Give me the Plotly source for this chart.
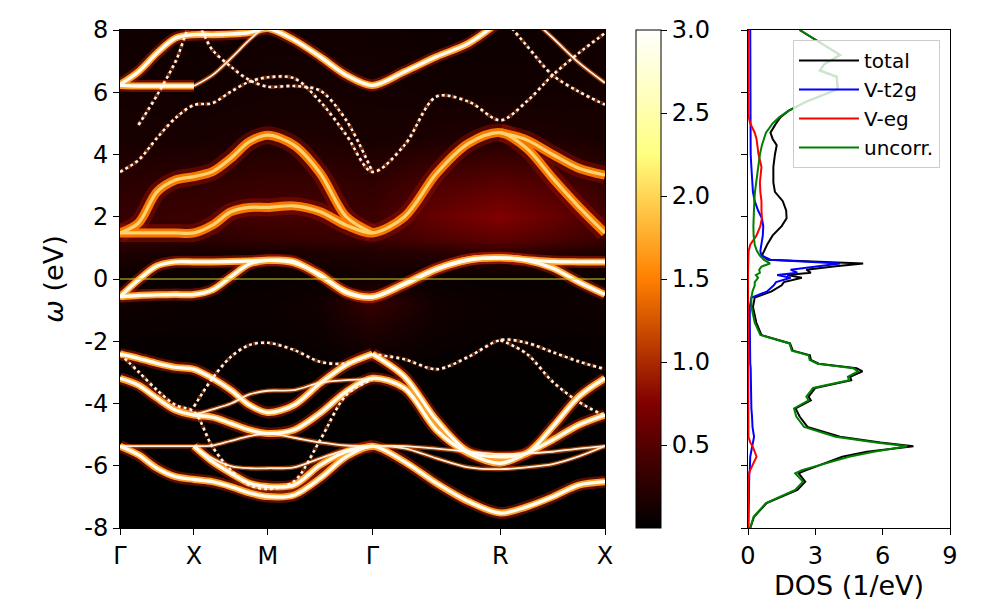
import plotly.graph_objects as go

N = None

# ---------------- k-path (cumulative distance along Γ-X-M-Γ-R-X) ----------------
K_PATH = [0.0, 0.125, 0.25, 0.375, 0.5, 0.625, 0.75, 0.875, 1.0, 1.177, 1.354, 1.530,
          1.707, 1.924, 2.140, 2.357, 2.573, 2.750, 2.926, 3.103, 3.280]
HS_POS = [0.0, 0.5, 1.0, 1.707, 2.573, 3.280]
HS_LABELS = ["Γ", "X", "M", "Γ", "R", "X"]

# ---------------- spectral-function band maxima (eV) ----------------
t2g_a = [-0.57, -0.53, -0.51, -0.50, -0.50, -0.35, 0.07, 0.48, 0.60, 0.56, 0.10, -0.41, -0.58,
         -0.17, 0.31, 0.61, 0.68, 0.62, 0.56, 0.55, 0.55]
t2g_b = [-0.57, -0.03, 0.42, 0.55, 0.55, 0.55, 0.56, 0.58, 0.60, 0.52, 0.14, -0.44, -0.58,
         -0.15, 0.33, 0.62, 0.68, 0.60, 0.35, -0.10, -0.50]
hub_lower = [1.48, 1.48, 1.48, 1.48, 1.48, 1.73, 2.16, 2.30, 2.30, 2.35, 2.16, 1.73, 1.48,
             2.00, 3.39, 4.36, 4.70, 4.20, 3.24, 2.32, 1.48]
hub_upper = [1.48, 1.80, 2.80, 3.18, 3.29, 3.45, 3.88, 4.41, 4.62, 4.30, 3.40, 2.00, 1.48,
             N, N, N, 4.70, 4.47, 4.00, 3.56, 3.34]
eg_top = [6.25, 6.66, 7.26, 7.74, 7.85, 7.85, 7.87, 7.92, 8.05, 7.68, 7.14, 6.55, 6.22,
          6.66, 7.14, 7.57, 8.30, N, N, N, N]
eg_flat = [6.22, 6.20, 6.20, 6.20, 6.20, N, N, N, N, N, N, N, N, N, N, N, N, N, N, N, N]
thin_xm = [N, N, N, N, 6.20, 6.55, 7.09, 7.68, 8.20, N, N, N, N, N, N, N, N, N, N, N, N]
sp_1 = [3.44, 3.82, 4.53, 5.17, 5.59, 5.65, 6.02, 6.34, 6.48, 6.45, 5.70, 4.63, 3.44,
        4.30, 5.86, 5.70, 5.10, 5.70, 6.55, 7.26, 7.90]
sp_2 = [N, 4.95, 5.90, 6.98, 8.30, 7.36, 6.82, 6.39, 6.18, 6.20, 6.05, 5.10, 3.44,
        N, N, N, 8.50, 7.50, 6.55, 6.02, 5.60]
sp_3 = [N, N, N, N, N, N, N, N, N, N, N, N, N, N, N, N, N, 8.50, 7.75, 6.95, 6.30]
o2p_1 = [-2.41, -2.55, -2.71, -2.84, -2.90, -3.19, -3.57, -4.05, -4.29, -4.05, -3.35, -2.76, -2.41,
         N, N, N, N, N, N, N, N]
o2p_1r = [N, N, N, N, N, N, N, N, N, N, N, N, -2.41,
          -2.58, -2.90, -2.50, -1.96, -2.05, -2.35, -2.65, -2.90]
o2p_2 = [-3.19, -3.41, -3.83, -4.21, -4.37, -4.44, -4.64, -4.85, -4.96, -4.85, -4.31, -3.62, -3.19,
         -3.51, -4.85, -5.60, -5.92, -5.60, -5.17, -4.69, -4.37]
o2p_flat = [-5.37, -5.37, -5.37, -5.37, -5.37, -5.35, -5.20, -5.05, -4.96, -5.10, -5.25, -5.35, -5.37,
            -5.37, -5.45, -5.55, -5.63, -5.60, -5.55, -5.45, -5.37]
o2p_3 = [-5.37, -5.65, -6.08, -6.35, -6.44, -6.51, -6.67, -6.87, -6.99, -6.94, -6.40, -5.71, -5.37,
         -5.87, -6.56, -7.15, -7.52, -7.32, -7.00, -6.62, -6.51]
o2p_4 = [N, N, N, N, -5.37, -5.76, -6.01, -6.08, -6.08, -6.05, -5.76, -5.49, -5.37,
         -5.44, -5.76, -6.05, -6.11, -6.05, -5.95, -5.70, -5.37]
o2p_5 = [N, N, N, N, -5.37, -5.87, -6.24, -6.56, -6.67, -6.62, -5.98, -5.55, -5.37,
         N, N, N, N, N, N, N, N]
o2p_6 = [N, N, N, N, N, N, N, N, N, N, N, N, -2.41,
         -3.14, -4.53, -5.55, -5.71, -5.60, -4.75, -3.78, -3.19]
o2p_dot_c = [-2.41, -2.98, -3.57, -4.05, -4.26, -5.39, -6.14, -6.62, -6.75, -6.50, -5.17, -3.73, -3.22,
             N, N, N, N, N, N, N, N]
o2p_dot_d = [N, N, N, N, -4.10, -3.19, -2.50, -2.12, -2.05, -2.28, -2.66, -2.71, -2.41,
             N, N, N, N, N, N, N, N]
o2p_thin_m = [N, N, N, N, -4.37, -4.19, -4.00, -3.71, -3.59, -3.57, -3.33, -3.25, -3.22,
              N, N, N, N, N, N, N, N]
o2p_dot_r = [N, N, N, N, N, N, N, N, N, N, N, N, N, N, N, N, -1.96, -2.40, -3.30, -3.95, -4.40]

# ---------------- diffuse background intensity (coarse grid) ----------------
BG_K = [0.0, 0.5, 1.0, 1.35, 1.707, 2.14, 2.573, 2.93, 3.28]
BG_E = [-8.0, -3.0, -1.5, -0.8, 0.0, 0.9, 1.3, 2.0, 3.0, 4.5, 6.0, 8.0]
BG_Z = [
    [0.00, 0.00, 0.00, 0.00, 0.00, 0.00, 0.00, 0.00, 0.00],
    [0.02, 0.02, 0.02, 0.02, 0.03, 0.02, 0.02, 0.02, 0.02],
    [0.06, 0.05, 0.05, 0.08, 0.20, 0.08, 0.05, 0.05, 0.06],
    [0.10, 0.06, 0.06, 0.10, 0.32, 0.10, 0.06, 0.06, 0.10],
    [0.06, 0.04, 0.04, 0.05, 0.10, 0.05, 0.04, 0.04, 0.06],
    [0.18, 0.14, 0.14, 0.18, 0.20, 0.25, 0.32, 0.25, 0.18],
    [0.30, 0.26, 0.30, 0.32, 0.34, 0.45, 0.55, 0.45, 0.34],
    [0.32, 0.34, 0.40, 0.40, 0.34, 0.60, 0.75, 0.60, 0.40],
    [0.25, 0.28, 0.33, 0.33, 0.28, 0.45, 0.55, 0.46, 0.30],
    [0.14, 0.14, 0.17, 0.17, 0.14, 0.17, 0.20, 0.17, 0.14],
    [0.12, 0.10, 0.12, 0.12, 0.12, 0.10, 0.10, 0.10, 0.12],
    [0.10, 0.08, 0.10, 0.10, 0.10, 0.08, 0.08, 0.08, 0.10],
]
CB_TICKS = [0.5, 1.0, 1.5, 2.0, 2.5, 3.0]

# ---------------- DOS (1/eV) ----------------
dos_E = [8.0, 7.8, 7.5, 7.2, 6.9, 6.7, 6.5, 6.1, 5.7, 5.4, 5.2, 5.0, 4.7, 4.5, 4.3, 4.0, 3.6, 3.1,
         2.8, 2.5, 2.2, 1.95, 1.7, 1.4, 1.1, 0.9, 0.75, 0.62, 0.5, 0.4, 0.3, 0.2, 0.13, 0.04,
         -0.1, -0.2, -0.4, -0.6, -0.9, -1.4, -1.8, -2.07, -2.3, -2.45, -2.6, -2.72, -2.87, -2.97,
         -3.14, -3.25, -3.5, -3.78, -3.9, -4.16, -4.42, -4.75, -5.07, -5.25, -5.37, -5.55, -5.71,
         -6.14, -6.24, -6.51, -6.78, -7.2, -7.64, -8.0]
dos_total = [2.3, 2.76, 3.4, 4.1, 3.4, 3.2, 3.95, 4.0, 2.6, 1.8, 1.45, 1.25, 1.0, 1.1, 1.28, 1.2, 1.13, 1.13,
             1.2, 1.55, 1.7, 1.72, 1.5, 1.1, 0.85, 0.72, 0.62, 0.9, 5.13, 3.8, 2.6, 2.8, 1.75, 2.4,
             1.6, 1.5, 1.05, 0.3, 0.22, 0.37, 0.6, 1.87, 2.0, 2.76, 2.8, 3.15, 4.84, 5.1,
             4.55, 4.6, 3.0, 2.7, 2.8, 2.12, 2.3, 2.65, 4.1, 5.9, 7.37, 5.3, 4.2,
             2.6, 2.25, 2.55, 2.2, 0.83, 0.27, 0.1]
dos_t2g = [0.1, 0.1, 0.1, 0.1, 0.1, 0.1, 0.1, 0.1, 0.1, 0.1, 0.1, 0.1, 0.1, 0.1, 0.11, 0.12, 0.15, 0.2,
           0.22, 0.3, 0.45, 0.62, 0.68, 0.66, 0.6, 0.55, 0.6, 1.0, 4.1, 3.0, 1.9, 2.2, 1.3, 1.9,
           1.25, 1.15, 0.85, 0.15, 0.08, 0.08, 0.08, 0.1, 0.1, 0.1, 0.1, 0.1, 0.12, 0.12,
           0.12, 0.12, 0.12, 0.12, 0.12, 0.15, 0.18, 0.2, 0.27, 0.22, 0.18, 0.12, 0.1,
           0.08, 0.06, 0.05, 0.05, 0.03, 0.02, 0.02]
dos_eg = [0.0, 0.0, 0.0, 0.0, 0.0, 0.0, 0.0, 0.0, 0.0, 0.01, 0.03, 0.1, 0.3, 0.38, 0.42, 0.47, 0.6, 0.53,
          0.55, 0.6, 0.6, 0.62, 0.55, 0.38, 0.1, 0.03, 0.02, 0.01, 0.01, 0.0, 0.0, 0.0, 0.0, 0.0,
          0.0, 0.0, 0.0, 0.0, 0.0, 0.0, 0.0, 0.0, 0.0, 0.0, 0.0, 0.0, 0.0, 0.0,
          0.0, 0.0, 0.0, 0.0, 0.0, 0.0, 0.0, 0.0, 0.02, 0.1, 0.2, 0.3, 0.38,
          0.1, 0.05, 0.01, 0.0, 0.0, 0.0, 0.0]
dos_uncorr = [2.3, 2.76, 3.4, 4.1, 3.4, 3.2, 3.95, 4.0, 2.6, 1.8, 1.4, 1.1, 0.8, 0.7, 0.62, 0.53, 0.45, 0.35,
              0.31, 0.28, 0.26, 0.25, 0.24, 0.25, 0.3, 0.4, 0.53, 0.7, 0.98, 0.6, 0.5, 0.53, 0.35, 0.45,
              0.3, 0.3, 0.2, 0.15, 0.15, 0.3, 0.55, 1.85, 1.95, 2.7, 2.75, 3.1, 4.7, 4.9,
              4.45, 4.5, 2.9, 2.6, 2.7, 2.05, 2.15, 2.5, 3.9, 5.7, 7.1, 5.6, 4.5,
              2.4, 2.1, 2.45, 2.1, 0.8, 0.25, 0.1]

# ---------------- styling ----------------
FONT = "DejaVu Sans"
TICK_SIZE = 24
TITLE_SIZE = 27
AFMHOT = [[0.0, "rgb(0,0,0)"], [0.25, "rgb(128,0,0)"], [0.5, "rgb(255,128,0)"],
          [0.75, "rgb(255,255,128)"], [1.0, "rgb(255,255,255)"]]

STYLES = {
    "thick": [(12, "rgba(180,28,0,0.5)", "solid"), (7, "rgb(255,160,40)", "solid"),
              (3.4, "rgb(255,253,240)", "solid")],
    "broad": [(18, "rgba(150,15,0,0.45)", "solid"), (9, "rgb(245,120,0)", "solid"),
              (3.2, "rgb(255,210,110)", "solid")],
    "thin": [(4.5, "rgba(230,90,0,0.6)", "solid"), (1.8, "rgb(255,238,220)", "solid")],
    "dotted": [(4.0, "rgba(210,80,0,0.45)", "dot"), (2.6, "rgb(255,240,230)", "dot")],
}

BANDS = [
    (hub_lower, "broad"), (hub_upper, "broad"),
    (o2p_flat, "thin"), (o2p_4, "thin"), (o2p_thin_m, "thin"), (sp_3, "thin"), (thin_xm, "thin"),
    (sp_1, "dotted"), (sp_2, "dotted"), (o2p_dot_c, "dotted"), (o2p_dot_d, "dotted"),
    (o2p_dot_r, "dotted"), (o2p_1r, "dotted"),
    (o2p_1, "thick"), (o2p_2, "thick"), (o2p_3, "thick"), (o2p_5, "thick"), (o2p_6, "thick"),
    (eg_top, "thick"), (eg_flat, "thick"),
    (t2g_a, "thick"), (t2g_b, "thick"),
]

# page body has an 8 px margin: place panels relative to that offset
W, H, OFF = 1000, 600, 8


def fx(px):
    return (px - OFF) / W


def fy(py):
    return 1 - (py - OFF) / H


fig = go.Figure()

fig.add_trace(go.Heatmap(
    x=BG_K, y=BG_E, z=BG_Z, zmin=0, zmax=3, colorscale=AFMHOT, zsmooth="best",
    xaxis="x", yaxis="y", hoverinfo="skip",
    colorbar=dict(
        x=fx(636), xanchor="left", y=fy(30), yanchor="top",
        thickness=25, thicknessmode="pixels", len=498, lenmode="pixels",
        outlinewidth=1, outlinecolor="black", xpad=0, ypad=0,
        ticks="outside", ticklen=6, tickwidth=1, tickcolor="black",
        tickvals=CB_TICKS, ticktext=[f"{v:.1f}" for v in CB_TICKS],
        tickfont=dict(family=FONT, size=TICK_SIZE, color="black"),
    ),
))

max_layers = 3
for layer in range(max_layers):
    for arr, sty in BANDS:
        layers = STYLES[sty]
        idx = layer - (max_layers - len(layers))
        if idx < 0:
            continue
        w, c, dash = layers[idx]
        fig.add_trace(go.Scatter(
            x=K_PATH, y=arr, mode="lines", xaxis="x", yaxis="y",
            line=dict(color=c, width=w, shape="spline", smoothing=0.9, dash=dash),
            showlegend=False, hoverinfo="skip", connectgaps=False,
        ))

for name, vals, col in [("total", dos_total, "black"), ("V-t2g", dos_t2g, "blue"),
                        ("V-eg", dos_eg, "red"), ("uncorr.", dos_uncorr, "green")]:
    fig.add_trace(go.Scatter(
        x=vals, y=dos_E, mode="lines", name=name, xaxis="x2", yaxis="y2",
        line=dict(color=col, width=2), showlegend=True,
    ))

fig.add_shape(type="line", xref="x", yref="y", x0=HS_POS[0], x1=HS_POS[-1], y0=0, y1=0,
              line=dict(color="rgb(215,205,40)", width=1))

ax_common = dict(showline=True, mirror=True, linecolor="black", linewidth=1,
                 showgrid=False, zeroline=False, ticks="outside", ticklen=6,
                 tickwidth=1, tickcolor="black", automargin=False,
                 tickfont=dict(family=FONT, size=TICK_SIZE, color="black"))
E_TICKS = [-8, -6, -4, -2, 0, 2, 4, 6, 8]

fig.update_layout(
    width=W, height=H,
    margin=dict(l=0, r=0, t=0, b=0, autoexpand=False),
    paper_bgcolor="white", plot_bgcolor="white",
    font=dict(family=FONT, size=TICK_SIZE, color="black"),
    xaxis=dict(domain=[fx(120), fx(605)], range=[HS_POS[0], HS_POS[-1]], anchor="y",
               tickvals=HS_POS, ticktext=HS_LABELS, **ax_common),
    yaxis=dict(domain=[fy(528), fy(30)], range=[-8, 8], anchor="x",
               tickvals=E_TICKS, ticktext=[str(v) for v in E_TICKS],
               title=dict(text="<i>ω</i> (eV)", font=dict(family=FONT, size=TITLE_SIZE), standoff=12),
               **ax_common),
    xaxis2=dict(domain=[fx(748), fx(950)], range=[0, 9], anchor="y2",
                tickvals=[0, 3, 6, 9], ticktext=["0", "3", "6", "9"],
                title=dict(text="DOS (1/eV)", font=dict(family=FONT, size=TITLE_SIZE), standoff=4),
                **ax_common),
    yaxis2=dict(domain=[fy(528), fy(30)], range=[-8, 8], anchor="x2",
                tickvals=E_TICKS, showticklabels=False, **ax_common),
    legend=dict(x=fx(940), xanchor="right", y=fy(40), yanchor="top",
                bgcolor="rgba(255,255,255,0.8)", bordercolor="#cccccc", borderwidth=1,
                font=dict(family=FONT, size=20, color="black"), tracegroupgap=0,
                itemwidth=60),
)

fig.write_html("out.html")
